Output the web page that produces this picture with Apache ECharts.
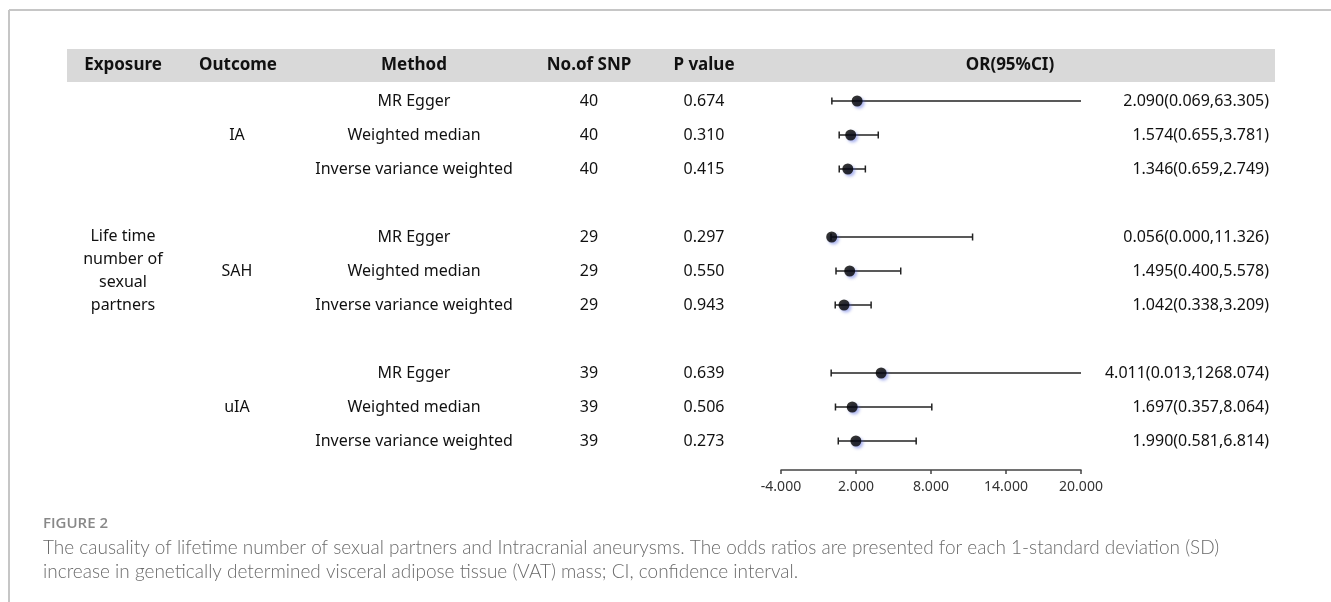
<!DOCTYPE html>
<html>
<head>
<meta charset="utf-8">
<script src="https://cdn.jsdelivr.net/npm/echarts@6/dist/echarts.min.js"></script>
<style>
  html, body { margin: 0; padding: 0; background: #fff; }
  #main { width: 1331px; height: 602px; }
</style>
</head>
<body>
<div id="main"></div>
<script>
// table data, one entry per row (top to bottom)
const outcomes = ['IA', 'SAH', 'uIA']
const methods = ['MR Egger', 'Weighted median', 'Inverse variance weighted']
const snps = [40, 40, 40, 29, 29, 29, 39, 39, 39]
const pValues = ['0.674', '0.310', '0.415', '0.297', '0.550', '0.943', '0.639', '0.506', '0.273']
const orValues = [2.090, 1.574, 1.346, 0.056, 1.495, 1.042, 4.011, 1.697, 1.990]
const ciLower = [0.069, 0.655, 0.659, 0.000, 0.400, 0.338, 0.013, 0.357, 0.581]
const ciUpper = [63.305, 3.781, 2.749, 11.326, 5.578, 3.209, 1268.074, 8.064, 6.814]
const xTicks = { min: -4, max: 20, step: 6 }
const exposure = 'Life time\nnumber of\nsexual\npartners'

// 3 groups of 3 rows with one empty slot between groups
const slotOf = i => i + Math.floor(i / 3)
const nSlots = 11
const slots = Array.from({ length: nSlots }, (_, k) => 's' + k)
const blank = () => Array(nSlots).fill('')

const methodCol = blank(), snpCol = blank(), pCol = blank(), orCol = blank(), outCol = blank(), expCol = blank()
snps.forEach((n, i) => {
  const s = slotOf(i)
  methodCol[s] = methods[i % 3]
  snpCol[s] = String(n)
  pCol[s] = pValues[i]
  orCol[s] = orValues[i].toFixed(3) + '(' + ciLower[i].toFixed(3) + ',' + ciUpper[i].toFixed(3) + ')'
})
outcomes.forEach((o, g) => { outCol[slotOf(g * 3 + 1)] = o })
expCol[slotOf(4)] = exposure

const FONT = '"Noto Sans", "DejaVu Sans", sans-serif'
const gridLeft = 781, gridRight = 1081

const textAxis = (data, x, pos, align) => ({
  type: 'category', data: data, inverse: true, position: pos,
  offset: pos === 'left' ? gridLeft - x : x - gridRight,
  axisLine: { show: false }, axisTick: { show: false },
  axisLabel: { interval: 0, margin: 0, align: align, color: '#111', fontSize: 16, fontFamily: FONT, lineHeight: 23 }
})

const chart = echarts.init(document.getElementById('main'))

const headers = [
  ['Exposure', 123], ['Outcome', 238], ['Method', 414], ['No.of SNP', 589], ['P value', 704], ['OR(95%CI)', 1010]
]

chart.setOption({
  animation: false,
  grid: { left: gridLeft, top: 84, width: gridRight - gridLeft, height: 34 * nSlots, outerBoundsMode: 'none', containLabel: false },
  xAxis: {
    type: 'value', min: xTicks.min, max: xTicks.max, interval: xTicks.step, offset: 12,
    axisLine: { show: true, lineStyle: { color: '#444', width: 1.5 } },
    axisTick: { show: true, length: 4, lineStyle: { color: '#444', width: 1.5 } },
    splitLine: { show: false },
    axisLabel: { formatter: v => v.toFixed(3), color: '#333', fontSize: 14, fontFamily: FONT, margin: 10 }
  },
  yAxis: [
    { type: 'category', data: slots, inverse: true, show: false },
    textAxis(expCol, 123, 'left', 'center'),
    textAxis(outCol, 237, 'left', 'center'),
    textAxis(methodCol, 414, 'left', 'center'),
    textAxis(snpCol, 589, 'left', 'center'),
    textAxis(pCol, 704, 'left', 'center'),
    textAxis(orCol, 1269, 'right', 'right')
  ],
  graphic: [
    { type: 'line', shape: { x1: 9, y1: 10, x2: 1331, y2: 10 }, style: { stroke: '#c6c6c6', lineWidth: 2 } },
    { type: 'line', shape: { x1: 9, y1: 10, x2: 9, y2: 602 }, style: { stroke: '#c6c6c6', lineWidth: 2 } },
    { type: 'rect', shape: { x: 67, y: 49, width: 1208, height: 33 }, style: { fill: '#d9d9d9' }, z: -1 },
    ...headers.map(h => ({
      type: 'text', x: h[1], y: 65.5,
      style: { text: h[0], fill: '#111', font: 'bold 17px ' + FONT, align: 'center', verticalAlign: 'middle' }
    })),
    { type: 'text', x: 43, y: 524, style: { text: 'FIGURE 2', fill: '#888', font: '600 15px "Open Sans", sans-serif', verticalAlign: 'middle' } },
    { type: 'text', x: 43, y: 548, style: { text: 'The causality of lifetime number of sexual partners and Intracranial aneurysms. The odds ratios are presented for each 1-standard deviation (SD)', fill: '#6a6a6a', font: '300 19px Lato, sans-serif', verticalAlign: 'middle' } },
    { type: 'text', x: 43, y: 572, style: { text: 'increase in genetically determined visceral adipose tissue (VAT) mass; CI, confidence interval.', fill: '#6a6a6a', font: '300 19px Lato, sans-serif', verticalAlign: 'middle' } }
  ],
  series: [
    {
      type: 'custom',
      clip: true,
      data: orValues.map((_, i) => [ciLower[i], ciUpper[i], slotOf(i)]),
      encode: { x: [0, 1], y: 2 },
      renderItem: (params, api) => {
        const a = api.coord([api.value(0), api.value(2)])
        const b = api.coord([api.value(1), api.value(2)])
        const st = { stroke: '#222', lineWidth: 1.5 }
        return {
          type: 'group',
          children: [
            { type: 'line', shape: { x1: a[0], y1: a[1], x2: b[0], y2: b[1] }, style: st },
            { type: 'line', shape: { x1: a[0], y1: a[1] - 3.5, x2: a[0], y2: a[1] + 3.5 }, style: st },
            { type: 'line', shape: { x1: b[0], y1: b[1] - 3.5, x2: b[0], y2: b[1] + 3.5 }, style: st }
          ]
        }
      }
    },
    {
      type: 'scatter',
      symbol: 'circle', symbolSize: 11,
      data: orValues.map((v, i) => [v, slotOf(i)]),
      itemStyle: { color: '#000', shadowBlur: 3, shadowOffsetX: 2, shadowOffsetY: 2, shadowColor: 'rgba(70,90,220,0.55)' },
      z: 3
    }
  ]
})
</script>
</body>
</html>
